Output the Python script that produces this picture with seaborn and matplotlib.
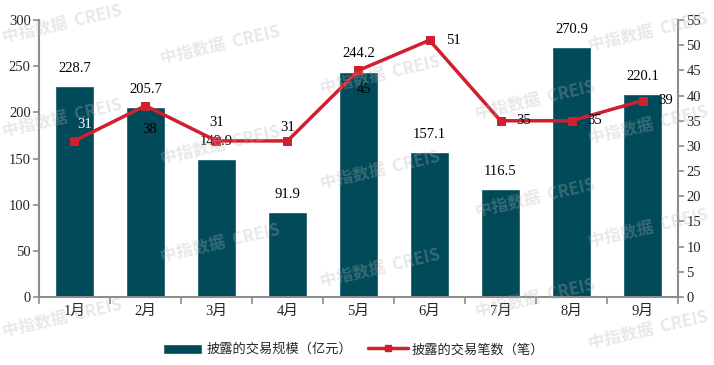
import numpy as np
import pandas as pd
import matplotlib.pyplot as plt
import seaborn as sns
from matplotlib.patches import Patch
from matplotlib.lines import Line2D

sns.set_style('white')
plt.rcParams['font.family'] = ['Liberation Serif', 'Noto Sans CJK SC', 'DejaVu Sans']

# data
months = ['1月', '2月', '3月', '4月', '5月', '6月', '7月', '8月', '9月']
scale = [228.7, 205.7, 149.9, 91.9, 244.2, 157.1, 116.5, 270.9, 220.1]
deals = [31, 38, 31, 31, 45, 51, 35, 35, 39]

bar_color = '#004a5a'
line_color = '#d0202f'
axis_color = '#8c8c8c'

df = pd.DataFrame({'month': months, 'scale': scale, 'deals': deals})

fig = plt.figure(figsize=(7.14, 3.65), dpi=100)
ax = fig.add_axes([0.0546, 0.1863, 0.895, 0.7587])

sns.barplot(data=df, x='month', y='scale', color=bar_color, width=0.55,
            saturation=1, ax=ax)
ax.set_xlim(-0.5, 8.5)
ax.set_ylim(0, 300)
ax.set_yticks(range(0, 301, 50))
ax.set_xlabel('')
ax.set_ylabel('')

ax2 = ax.twinx()
sns.lineplot(x=np.arange(len(deals)), y=deals, color=line_color, lw=2.5,
             marker='s', markersize=6, markeredgecolor=line_color, ax=ax2)
ax2.set_ylim(0, 55)
ax2.set_yticks(range(0, 56, 5))
ax2.set_xlim(-0.5, 8.5)

# bar labels
for i, v in enumerate(scale):
    ax.annotate(f'{v}', (i, v), xytext=(0, 8), textcoords='offset points',
                ha='center', va='bottom', fontsize=10.5, color='black')

# line labels (offsets in points, from the marker)
line_offsets = [(7, 12), (3, -17), (0, 13), (0, 10), (4, -14), (17, 0),
                (17, 0), (17, 0), (17, 0)]
for i, v in enumerate(deals):
    dx, dy = line_offsets[i]
    ax2.annotate(f'{v}', (i, v), xytext=(dx, dy), textcoords='offset points',
                 ha='center', va='center', fontsize=10.5,
                 color='white' if i == 0 else 'black')

# spines and ticks
for a in (ax, ax2):
    a.spines['top'].set_visible(False)
    for s in ['left', 'right', 'bottom']:
        a.spines[s].set_color(axis_color)
        a.spines[s].set_linewidth(1.5)
ax.spines['right'].set_visible(False)
ax2.spines['left'].set_visible(False)
ax2.spines['bottom'].set_visible(False)

ax.tick_params(axis='y', direction='out', length=4, width=1.2, color=axis_color,
               labelsize=10.5, pad=2, left=True)
ax2.tick_params(axis='y', direction='out', length=4, width=1.2, color=axis_color,
                labelsize=10.5, pad=2, right=True)
ax.tick_params(axis='x', length=0, labelsize=10.5, pad=6)
ax.set_xticks(np.arange(-0.5, 9, 1), minor=True)
ax.tick_params(axis='x', which='minor', direction='out', length=5, width=1.2,
               color=axis_color, bottom=True)

# watermarks (figure pixel centres)
wm = [(62, 24), (62, 118), (62, 318), (220, 45), (220, 145), (220, 243),
      (380, 75), (380, 170), (380, 268), (535, 100), (535, 198), (535, 298),
      (648, 32), (648, 125), (648, 228), (648, 330)]
for x, y in wm:
    fig.text(x / 714, 1 - y / 365, '中指数据  CREIS', rotation=13, fontsize=12,
             color='#b4b4b4', alpha=0.3, fontweight='bold',
             family=['Noto Sans CJK SC', 'DejaVu Sans'],
             ha='center', va='center', zorder=10)

handles = [Patch(facecolor=bar_color, label='披露的交易规模（亿元）'),
           Line2D([0], [0], color=line_color, lw=2.5, marker='s', markersize=4,
                  label='披露的交易笔数（笔）')]
fig.legend(handles=handles, loc='center', bbox_to_anchor=(0.495, 0.042), ncol=2,
           frameon=False, prop={'family': ['Noto Sans CJK SC'], 'size': 9.5},
           handlelength=3.0, handleheight=0.8, columnspacing=1.2, handletextpad=0.3)

fig.savefig('out.png', dpi=100)
